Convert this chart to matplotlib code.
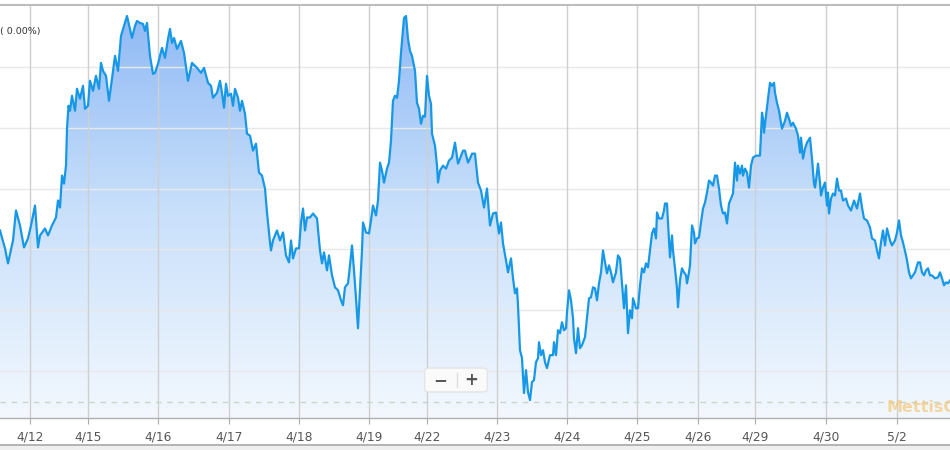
import numpy as np
import matplotlib.pyplot as plt
from matplotlib.colors import LinearSegmentedColormap
from matplotlib.patches import FancyBboxPatch, Rectangle

# time position (session-scaled) and chart reading (distance from top)
t = [0, 5, 8, 13, 16, 20, 24, 28, 31, 35, 38, 40, 45, 48, 52, 56, 58, 60, 62, 64, 66, 67, 68.5, 70, 72, 75, 77,
     80, 83, 85, 88, 90, 93, 96, 99, 101, 103, 106, 109, 112, 115, 118, 121, 124, 127, 130, 132, 135, 137, 140,
     143, 145, 147, 150, 153,
     155, 158, 162, 165, 168, 170, 172, 174, 177, 181, 184, 188, 192, 197, 201, 204, 208, 211, 213, 217, 220,
     222, 224, 226, 228, 231, 233, 235, 238, 240, 242, 245, 247, 250, 253, 256, 259, 262, 265, 267, 270, 271,
     273, 277, 280, 283, 286, 289, 291, 293, 296, 299, 301, 303, 305, 307,
     310, 313, 317, 320, 322, 324, 327, 329, 332, 335, 338, 341, 343, 345, 348, 350, 352, 354, 356, 358, 360,
     362, 363, 366, 369, 371, 373, 376, 378, 380, 382, 384, 387, 389, 391, 393, 395, 397, 399, 401, 403, 404,
     406, 408, 410, 412, 415, 417, 419, 421, 423, 425, 427, 429, 431, 432, 435, 437, 438, 440, 443, 446, 449,
     452, 455, 458, 460, 463,
     465, 468, 470, 472, 475, 478, 481, 484, 487, 490, 493, 496, 499, 501, 503, 506, 508, 510, 511, 513, 515,
     517, 518, 520, 522, 524, 526, 528, 530, 532, 534, 536, 538, 539, 541, 543, 545, 547, 550, 553, 554, 556,
     558, 560, 562, 564, 566, 567, 569, 571, 573, 574, 576, 578, 580, 582, 585, 587, 589, 591, 593, 595, 597,
     599, 601, 603, 605, 607, 609, 611, 613, 616, 618,
     620, 622, 624, 626, 628, 630, 632, 633, 636, 638, 640, 642, 644, 646, 648, 650, 652, 654, 656, 657, 659,
     662, 664, 665, 667, 668, 670, 672, 673, 675, 677, 678, 680, 682, 684, 686, 687, 689, 690, 691, 692, 694,
     695, 697, 699, 701, 703, 705, 707, 709, 711, 713, 715, 717, 719, 721, 723, 725, 727, 729, 731, 733, 735,
     737, 738, 740, 742, 743, 745, 747, 749, 751, 753, 756, 758, 760, 762, 763, 764, 766, 768, 770, 772, 774,
     775, 777, 779, 782, 785, 787, 789, 791, 793, 796, 798, 800, 801, 803, 805, 807, 810, 812, 814, 815, 817,
     818, 820, 821, 823, 825, 827, 828, 829, 831, 833, 835, 837, 839, 841, 843, 846, 848, 851, 854, 857, 860,
     862, 864, 867, 870, 872, 875, 877, 879, 881, 883, 885, 887, 890, 892, 895, 897, 899, 901, 903, 906, 907,
     909, 911, 913, 915, 918, 920, 922, 924, 926, 928, 930, 932, 935, 938, 940, 942, 944, 946, 948, 950]

depth = [230, 248, 263, 240, 210, 225, 247, 238, 225, 205, 247, 235, 228, 235, 225, 217, 200, 207, 175, 183, 165,
         128, 105, 110, 95, 110, 88, 98, 85, 108, 105, 80, 90, 75, 88, 62, 70, 75, 100, 78, 55, 70, 35, 25, 15,
         28, 37, 25, 20, 22, 23, 30, 22, 55, 73,
         72, 63, 47, 57, 38, 28, 42, 37, 48, 40, 52, 80, 62, 67, 72, 67, 82, 85, 97, 92, 80, 92, 107, 83, 95, 93,
         105, 88, 97, 110, 100, 113, 133, 135, 150, 143, 172, 175, 188, 212, 242, 250, 240, 230, 240, 232, 255,
         262, 240, 258, 248, 248, 222, 208, 230, 217,
         217, 213, 218, 250, 263, 252, 270, 255, 275, 287, 290, 300, 305, 287, 283, 265, 245, 270, 298, 328, 290,
         250, 222, 232, 233, 220, 205, 215, 200, 162, 170, 182, 168, 162, 140, 100, 95, 97, 80, 52, 28, 17, 15,
         38, 50, 55, 70, 102, 108, 123, 115, 116, 75, 95, 103, 133, 145, 165, 182, 170, 165, 168, 160, 157, 142,
         163, 158, 150,
         150, 162, 158, 153, 153, 182, 190, 207, 188, 225, 213, 212, 233, 222, 243, 260, 272, 263, 258, 278, 293,
         288, 305, 350, 358, 393, 370, 392, 400, 382, 380, 362, 358, 342, 355, 350, 362, 368, 355, 355, 342, 355,
         330, 333, 322, 330, 328, 312, 290, 300, 318, 338, 353, 328, 348, 345, 337, 318, 298, 297, 287, 288, 300,
         283, 272, 250, 262, 273, 265, 272, 282, 272, 255,
         258, 283, 308, 285, 333, 310, 318, 298, 308, 308, 285, 268, 272, 263, 267, 250, 233, 228, 238, 212, 218,
         218, 210, 203, 203, 222, 257, 235, 250, 268, 288, 307, 280, 268, 272, 275, 283, 272, 265, 245, 225, 232,
         243, 238, 237, 222, 208, 202, 192, 180, 182, 185, 175, 175, 188, 205, 213, 212, 223, 203, 198, 193, 162,
         180, 165, 173, 165, 175, 168, 172, 187, 165, 157, 155, 155, 155, 112, 118, 132, 115, 98, 82, 85, 82,
         92, 102, 110, 128, 120, 112, 118, 125, 122, 128, 135, 152, 137, 158, 148, 142, 137, 158, 183, 187, 172,
         163, 182, 195, 187, 182, 205, 192, 213, 198, 193, 195, 178, 190, 190, 200, 198, 205, 210, 200, 208, 193,
         207, 218, 220, 227, 238, 240, 250, 258, 242, 230, 245, 228, 240, 245, 240, 232, 220, 235, 242, 255, 260,
         272, 278, 275, 272, 262, 262, 272, 275, 270, 268, 275, 275, 278, 277, 272, 278, 285, 282, 283, 280]

tick_pos = [30, 88, 158, 229, 299, 369, 427, 497, 567, 637, 698, 755, 826, 897]
tick_labels = ['4/12', '4/15', '4/16', '4/17', '4/18', '4/19', '4/22', '4/23', '4/24', '4/25', '4/26',
               '4/29', '4/30', '5/2']
hgrid = [47, 108, 169, 230, 291, 352]
base_level = 16

t = np.array(t, dtype=float)
level = 418 - np.array(depth, dtype=float)

fig = plt.figure(figsize=(9.5, 4.5), dpi=100)
ax = fig.add_axes([0, 32 / 450, 1, 413 / 450])
ax.set_xlim(0, 950)
ax.set_ylim(0, 414)

# gradient fill under the line
poly = ax.fill_between(t, level, 0, color='none', lw=0)
cmap = LinearSegmentedColormap.from_list('g', ['#f3f8fe', '#c9e0fb', '#8db8f4'])
grad = np.linspace(0, 1, 256).reshape(-1, 1)
im = ax.imshow(grad, extent=[0, 950, 0, 414], origin='lower', aspect='auto', cmap=cmap, zorder=1)
im.set_clip_path(poly.get_paths()[0], transform=ax.transData)

# grid
for y in hgrid:
    ax.axhline(y, color='#e8e8e8', lw=1, zorder=2)
for x in tick_pos:
    ax.axvline(x, color='#cfcfcf', lw=1, zorder=2)
ax.axhline(base_level, color='#c6d6c8', lw=1, ls=(0, (4, 4)), zorder=2)

ax.plot(t, level, color='#1798e6', lw=1.6, zorder=3)

ax.set_xticks(tick_pos)
ax.set_xticklabels(tick_labels)
ax.set_yticks([])
ax.tick_params(axis='x', length=4, color='#aaaaaa', labelsize=8.8, labelcolor='#555555', pad=5)
for s in ['left', 'right']:
    ax.spines[s].set_visible(False)
ax.spines['top'].set_color('#bdbdbd')
ax.spines['top'].set_linewidth(1.5)
ax.spines['bottom'].set_color('#b0b0b0')
ax.spines['bottom'].set_linewidth(1)

ax.text(0.0, 0.935, '( 0.00%)', transform=ax.transAxes, fontsize=6.8, color='#333333', va='center', ha='left',
        zorder=5)

# zoom buttons
btn = FancyBboxPatch((0.447, 0.063), 0.066, 0.058, boxstyle='round,pad=0.0,rounding_size=0.006',
                     transform=ax.transAxes, facecolor='#fafafa', edgecolor='#e4e4e4', lw=1, zorder=6)
ax.add_patch(btn)
ax.plot([0.481, 0.481], [0.075, 0.11], transform=ax.transAxes, color='#dddddd', lw=1, zorder=7)
ax.text(0.463, 0.092, '\u2212', transform=ax.transAxes, fontsize=12, fontweight='bold', color='#555555',
        ha='center', va='center', zorder=7)
ax.text(0.496, 0.092, '+', transform=ax.transAxes, fontsize=12, fontweight='bold', color='#555555',
        ha='center', va='center', zorder=7)

# watermark (cut at the right edge, as in the source)
ax.text(0.933, 0.025, 'MettisG', transform=ax.transAxes, fontsize=11.5, fontweight='bold', color='#f5c46e',
        alpha=0.65, ha='left', va='center', zorder=5, clip_on=False)

# bottom bar
fig.patches.append(Rectangle((0, 0), 1, 5 / 450, transform=fig.transFigure, facecolor='#efefef', lw=0))
fig.patches.append(Rectangle((0, 4 / 450), 1, 2 / 450, transform=fig.transFigure, facecolor='#b5b5b5', lw=0))

fig.savefig('out.png', dpi=100)
